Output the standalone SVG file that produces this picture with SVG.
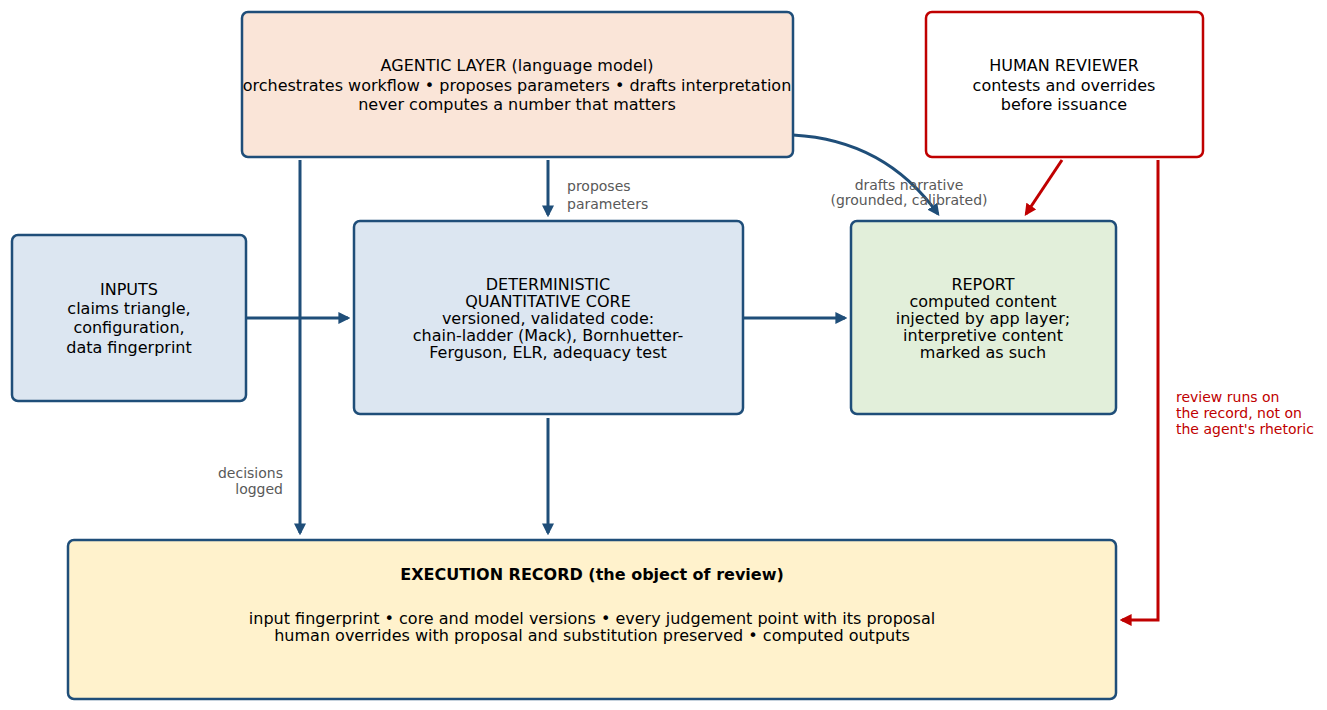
<svg xmlns="http://www.w3.org/2000/svg" width="1327" height="710" viewBox="0 0 1327 710">
<style>
text{font-family:"DejaVu Sans",sans-serif;}
.n{font-size:16px;fill:#000;text-anchor:middle}
.l{font-size:14px;fill:#595959}
.r{font-size:14px;fill:#c00000}
.b{stroke:#1f4e79;stroke-width:2.5}
.c{fill:none;stroke:#1f4e79;stroke-width:3}
.cr{fill:none;stroke:#c00000;stroke-width:3}
</style>
<defs>
<marker id="ab" viewBox="0 0 10 10" refX="8" refY="5" markerWidth="4" markerHeight="4" orient="auto"><path d="M0,0L10,5L0,10z" fill="#1f4e79"/></marker>
<marker id="ar" viewBox="0 0 10 10" refX="8" refY="5" markerWidth="4" markerHeight="4" orient="auto"><path d="M0,0L10,5L0,10z" fill="#c00000"/></marker>
</defs>
<rect width="1327" height="710" fill="#fff"/>
<g id="connectors">
<path class="c" d="M548,160V215" marker-end="url(#ab)"/>
<path class="c" d="M300,160V533" marker-end="url(#ab)"/>
<path class="c" d="M548,418V533" marker-end="url(#ab)"/>
<path class="c" d="M246,318H348" marker-end="url(#ab)"/>
<path class="c" d="M743,318H845" marker-end="url(#ab)"/>
<path class="c" d="M793,135Q885,140 938,214" marker-end="url(#ab)"/>
<path class="cr" d="M1062,160L1026,214" marker-end="url(#ar)"/>
<path class="cr" d="M1158,160V620H1122" marker-end="url(#ar)"/>
<text class="l" x="567" y="191">proposes</text>
<text class="l" x="567" y="209">parameters</text>
<text class="l" x="909" y="190" text-anchor="middle">drafts narrative</text>
<text class="l" x="909" y="205" text-anchor="middle">(grounded, calibrated)</text>
<text class="l" x="283" y="478" text-anchor="end">decisions</text>
<text class="l" x="283" y="494" text-anchor="end">logged</text>
<text class="r" x="1176" y="402">review runs on</text>
<text class="r" x="1176" y="418">the record, not on</text>
<text class="r" x="1176" y="434">the agent's rhetoric</text>
</g>
<g id="agentic"><rect class="b" x="242" y="12" width="551" height="145" rx="6" fill="#fae5d8"/>
<text class="n" x="517" y="71">AGENTIC LAYER (language model)</text>
<text class="n" x="517" y="91">orchestrates workflow • proposes parameters • drafts interpretation</text>
<text class="n" x="517" y="110">never computes a number that matters</text></g>
<g id="human"><rect x="926" y="12" width="277" height="145" rx="6" fill="#fff" stroke="#c00000" stroke-width="2.5"/>
<text class="n" x="1064" y="71">HUMAN REVIEWER</text>
<text class="n" x="1064" y="91">contests and overrides</text>
<text class="n" x="1064" y="110">before issuance</text></g>
<g id="inputs"><rect class="b" x="12" y="235" width="234" height="166" rx="6" fill="#dce6f1"/>
<text class="n" x="129" y="295">INPUTS</text>
<text class="n" x="129" y="314">claims triangle,</text>
<text class="n" x="129" y="333">configuration,</text>
<text class="n" x="129" y="353">data fingerprint</text></g>
<g id="core"><rect class="b" x="354" y="221" width="389" height="193" rx="6" fill="#dce6f1"/>
<text class="n" x="548" y="290">DETERMINISTIC</text>
<text class="n" x="548" y="307">QUANTITATIVE CORE</text>
<text class="n" x="548" y="324">versioned, validated code:</text>
<text class="n" x="548" y="341">chain-ladder (Mack), Bornhuetter-</text>
<text class="n" x="548" y="358">Ferguson, ELR, adequacy test</text></g>
<g id="report"><rect class="b" x="851" y="221" width="265" height="193" rx="6" fill="#e2efda"/>
<text class="n" x="983" y="290">REPORT</text>
<text class="n" x="983" y="307">computed content</text>
<text class="n" x="983" y="324">injected by app layer;</text>
<text class="n" x="983" y="341">interpretive content</text>
<text class="n" x="983" y="358">marked as such</text></g>
<g id="record"><rect class="b" x="68" y="540" width="1048" height="159" rx="6" fill="#fff2cc"/>
<text class="n" x="592" y="580" font-weight="bold" font-size="17.5">EXECUTION RECORD (the object of review)</text>
<text class="n" x="592" y="624">input fingerprint • core and model versions • every judgement point with its proposal</text>
<text class="n" x="592" y="641">human overrides with proposal and substitution preserved • computed outputs</text></g>
</svg>
